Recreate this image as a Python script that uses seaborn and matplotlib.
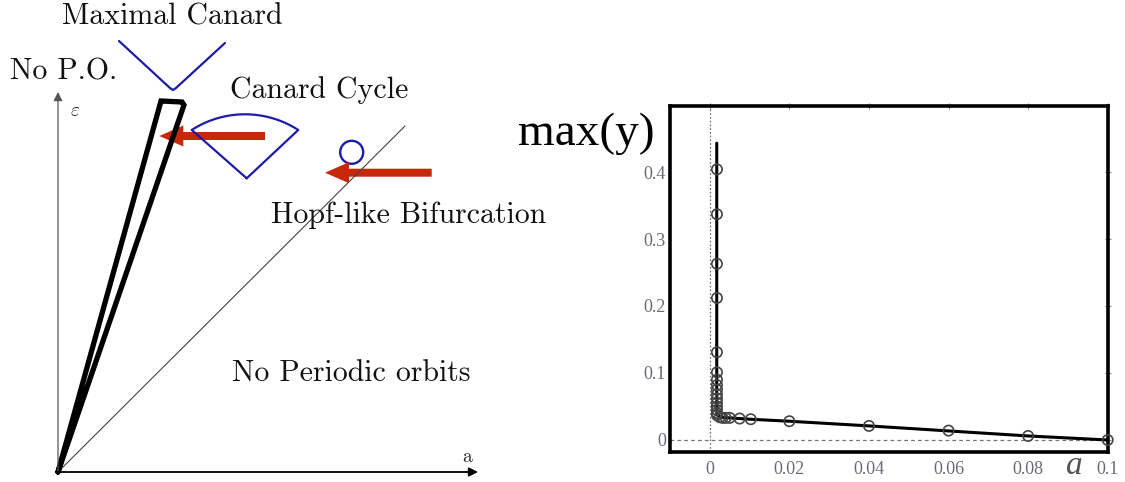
import numpy as np
import matplotlib
matplotlib.use("Agg")
import matplotlib.pyplot as plt
from matplotlib.patches import FancyArrow, Circle
import seaborn as sns

sns.set_theme(style="white")
plt.rcParams["mathtext.fontset"] = "cm"
plt.rcParams["axes.formatter.use_mathtext"] = True

# ---------------- schematic (a, epsilon) diagram, units in px from origin ----------------
wedge_a = [0, 103, 124, 126, 0]
wedge_eps = [0, 371, 370, 367, 0]
hopf_line_a = [0, 347]
hopf_line_eps = [0, 346]
canard_v_a = [61, 112, 115, 118, 167]
canard_v_eps = [431, 384, 382, 384, 429]
sector_center = (187.0, 259.4)
sector_radius = 98.3
sector_angles = (57.2, 122.8)
sector_vertex = (188.7, 293.7)
hopf_circle = (293.7, 319.7, 11.5)
red_arrows = [((207.0, 336.0), (101.3, 336.0)), ((373.7, 299.3), (267.0, 299.3))]
eps_axis_top = 380
a_axis_end = 420

schematic_labels = ["Maximal Canard", "No P.O.", "Canard Cycle",
                    "Hopf-like Bifurcation", "No Periodic orbits"]
schematic_label_pos = [(114, 455), (5.5, 400), (261, 382), (351, 257), (293, 99)]

# ---------------- max(y) versus a ----------------
marker_a = [0.0018] * 16 + [0.0025, 0.0032, 0.004, 0.005, 0.0075, 0.0103,
                            0.02, 0.04, 0.06, 0.08, 0.1]
marker_y = [0.404, 0.337, 0.263, 0.212, 0.131, 0.101, 0.090, 0.082, 0.075,
            0.068, 0.062, 0.056, 0.050, 0.045, 0.040, 0.037,
            0.034, 0.033, 0.033, 0.033, 0.032, 0.031,
            0.028, 0.021, 0.014, 0.006, 0.0]
line_a = [0.00175, 0.00175, 0.0019, 0.0025, 0.0035, 0.005, 0.0075, 0.01,
          0.02, 0.04, 0.06, 0.08, 0.1]
line_y = [0.443, 0.042, 0.037, 0.0345, 0.0335, 0.033, 0.032, 0.031,
          0.028, 0.021, 0.0135, 0.006, 0.0]
x_ticks = [0, 0.02, 0.04, 0.06, 0.08, 0.1]
x_tick_labels = ["0", "0.02", "0.04", "0.06", "0.08", "0.1"]
y_ticks = [0, 0.1, 0.2, 0.3, 0.4]
y_tick_labels = ["0", "0.1", "0.2", "0.3", "0.4"]

BLUE = "#1c1ca6"
RED = "#c8280a"

fig = plt.figure(figsize=(11.25, 4.82), dpi=100)
fig.patch.set_facecolor("white")

# ===== left: schematic =====
axl = fig.add_axes([0, 0, 560 / 1125, 1])
axl.set_xlim(-58, 502)
axl.set_ylim(-10, 472)
axl.set_aspect("equal", adjustable="datalim")
axl.axis("off")

# coordinate axes
axl.annotate("", xy=(0, eps_axis_top), xytext=(0, 0),
             arrowprops=dict(arrowstyle="-|>", color="#555555", lw=0.9,
                             mutation_scale=13, shrinkA=0, shrinkB=0))
axl.annotate("", xy=(a_axis_end, 0), xytext=(0, 0),
             arrowprops=dict(arrowstyle="-|>", color="black", lw=1.3,
                             mutation_scale=13, shrinkA=0, shrinkB=0))
axl.text(17, 362, r"$\varepsilon$", fontsize=14, ha="center", va="center")
axl.text(409, 15, "a", fontsize=14, ha="center", va="center", family="cmr10")

# Hopf line and canard wedge (thick, slightly rough stroke)
axl.plot(hopf_line_a, hopf_line_eps, color="#444444", lw=0.8)
wedge, = axl.plot(wedge_a, wedge_eps, color="black", lw=3.8,
                  solid_joinstyle="miter")
wedge.set_sketch_params(scale=0.6, length=1.0, randomness=1.0)

# maximal canard (V shape)
axl.plot(canard_v_a, canard_v_eps, color=BLUE, lw=1.6, solid_joinstyle="round")

# canard cycle (sector)
th = np.radians(np.linspace(sector_angles[0], sector_angles[1], 60))
arc_x = sector_center[0] + sector_radius * np.cos(th)
arc_y = sector_center[1] + sector_radius * np.sin(th)
sx = np.concatenate([[sector_vertex[0]], arc_x, [sector_vertex[0]]])
sy = np.concatenate([[sector_vertex[1]], arc_y, [sector_vertex[1]]])
axl.plot(sx, sy, color=BLUE, lw=1.6, solid_joinstyle="round")

# small orbit near Hopf
axl.add_patch(Circle(hopf_circle[:2], hopf_circle[2], fill=False,
                     edgecolor=BLUE, lw=1.7))

# red arrows
for (tail, tip) in red_arrows:
    axl.add_patch(FancyArrow(tail[0], tail[1], tip[0] - tail[0], tip[1] - tail[1],
                             width=8, head_width=21, head_length=24,
                             length_includes_head=True, color=RED, lw=0))

for txt, (x, y) in zip(schematic_labels, schematic_label_pos):
    axl.text(x, y, txt, fontsize=21.5, family="cmr10", ha="center", va="center",
             color="#111111")

# ===== right: max(y) vs a =====
axr = fig.add_axes([670 / 1125, (482 - 451.7) / 482,
                    (1107.7 - 670) / 1125, (451.7 - 105.7) / 482])
axr.axvline(0, color="#777777", lw=0.9, ls=(0, (1.5, 1.5)))
axr.axhline(0, color="#777777", lw=0.9, ls=(0, (3, 2.5)))
sns.lineplot(x=line_a, y=line_y, ax=axr, color="black", lw=2.2, sort=False,
             estimator=None)
sns.scatterplot(x=marker_a, y=marker_y, ax=axr, marker="o", s=55,
                facecolor="none", edgecolor="#444444", linewidth=1.2,
                clip_on=False, zorder=5)
axr.set_xlim(-0.01, 0.0994)
axr.set_ylim(-0.0175, 0.499)
axr.set_xticks(x_ticks)
axr.set_xticklabels(x_tick_labels)
axr.set_yticks(y_ticks)
axr.set_yticklabels(y_tick_labels)
for sp in axr.spines.values():
    sp.set_visible(True)
    sp.set_color("black")
    sp.set_linewidth(2.6)
axr.tick_params(axis="both", which="both", direction="inout", length=4,
                width=0.8, color="#888888", labelcolor="#6a6a78",
                labelsize=13, top=True, right=True)
axr.tick_params(axis="x", pad=5)
axr.tick_params(axis="y", pad=1)
for lab in axr.get_xticklabels() + axr.get_yticklabels():
    lab.set_family("Liberation Serif")
axr.set_xlabel("")
axr.set_ylabel("")

fig.text(586 / 1125, (482 - 134) / 482, "max(y)", family="Liberation Serif",
         fontsize=34, ha="center", va="center", color="black")
fig.text(1074 / 1125, (482 - 466) / 482, "a", family="Liberation Serif",
         style="italic", fontsize=24, ha="center", va="center", color="#555555")

fig.savefig("out.png", dpi=100, facecolor="white")
